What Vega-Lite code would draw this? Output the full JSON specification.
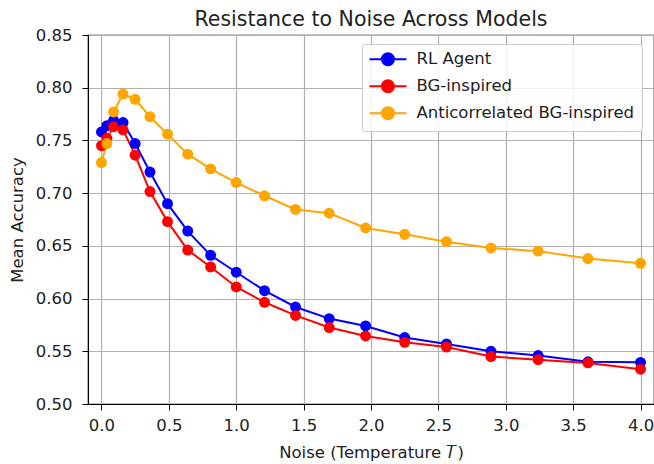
{
  "$schema": "https://vega.github.io/schema/vega-lite/v6.json",
  "width": 566,
  "height": 369,
  "autosize": {"type": "none"},
  "padding": {"left": 88, "top": 35, "right": 0, "bottom": 60},
  "background": "white",
  "title": {
    "text": "Resistance to Noise Across Models",
    "font": "DejaVu Sans",
    "fontSize": 20.5,
    "fontWeight": "normal",
    "color": "#222",
    "anchor": "middle",
    "offset": -3
  },
  "config": {
    "view": {"stroke": "black", "strokeWidth": 1.2},
    "font": "DejaVu Sans",
    "axis": {
      "labelFont": "DejaVu Sans",
      "titleFont": "DejaVu Sans",
      "labelFontSize": 16.5,
      "titleFontSize": 16.5,
      "titleFontWeight": "normal",
      "labelColor": "#222",
      "titleColor": "#222",
      "domainColor": "black",
      "tickColor": "black",
      "gridColor": "#b0b0b0",
      "gridWidth": 1.2,
      "tickSize": 6
    }
  },
  "data": {
    "values": [
      {"noise": 0.0, "acc": 0.758, "model": "RL Agent"},
      {"noise": 0.04, "acc": 0.764, "model": "RL Agent"},
      {"noise": 0.09, "acc": 0.769, "model": "RL Agent"},
      {"noise": 0.16, "acc": 0.767, "model": "RL Agent"},
      {"noise": 0.25, "acc": 0.747, "model": "RL Agent"},
      {"noise": 0.36, "acc": 0.720, "model": "RL Agent"},
      {"noise": 0.49, "acc": 0.690, "model": "RL Agent"},
      {"noise": 0.64, "acc": 0.664, "model": "RL Agent"},
      {"noise": 0.81, "acc": 0.641, "model": "RL Agent"},
      {"noise": 1.0, "acc": 0.625, "model": "RL Agent"},
      {"noise": 1.21, "acc": 0.6075, "model": "RL Agent"},
      {"noise": 1.44, "acc": 0.592, "model": "RL Agent"},
      {"noise": 1.69, "acc": 0.581, "model": "RL Agent"},
      {"noise": 1.96, "acc": 0.574, "model": "RL Agent"},
      {"noise": 2.25, "acc": 0.563, "model": "RL Agent"},
      {"noise": 2.56, "acc": 0.557, "model": "RL Agent"},
      {"noise": 2.89, "acc": 0.550, "model": "RL Agent"},
      {"noise": 3.24, "acc": 0.546, "model": "RL Agent"},
      {"noise": 3.61, "acc": 0.540, "model": "RL Agent"},
      {"noise": 4.0, "acc": 0.5395, "model": "RL Agent"},
      {"noise": 0.0, "acc": 0.745, "model": "BG-inspired"},
      {"noise": 0.04, "acc": 0.752, "model": "BG-inspired"},
      {"noise": 0.09, "acc": 0.763, "model": "BG-inspired"},
      {"noise": 0.16, "acc": 0.760, "model": "BG-inspired"},
      {"noise": 0.25, "acc": 0.736, "model": "BG-inspired"},
      {"noise": 0.36, "acc": 0.7015, "model": "BG-inspired"},
      {"noise": 0.49, "acc": 0.673, "model": "BG-inspired"},
      {"noise": 0.64, "acc": 0.646, "model": "BG-inspired"},
      {"noise": 0.81, "acc": 0.630, "model": "BG-inspired"},
      {"noise": 1.0, "acc": 0.611, "model": "BG-inspired"},
      {"noise": 1.21, "acc": 0.5965, "model": "BG-inspired"},
      {"noise": 1.44, "acc": 0.584, "model": "BG-inspired"},
      {"noise": 1.69, "acc": 0.5725, "model": "BG-inspired"},
      {"noise": 1.96, "acc": 0.5645, "model": "BG-inspired"},
      {"noise": 2.25, "acc": 0.5585, "model": "BG-inspired"},
      {"noise": 2.56, "acc": 0.554, "model": "BG-inspired"},
      {"noise": 2.89, "acc": 0.545, "model": "BG-inspired"},
      {"noise": 3.24, "acc": 0.542, "model": "BG-inspired"},
      {"noise": 3.61, "acc": 0.539, "model": "BG-inspired"},
      {"noise": 4.0, "acc": 0.533, "model": "BG-inspired"},
      {"noise": 0.0, "acc": 0.729, "model": "Anticorrelated BG-inspired"},
      {"noise": 0.04, "acc": 0.747, "model": "Anticorrelated BG-inspired"},
      {"noise": 0.09, "acc": 0.777, "model": "Anticorrelated BG-inspired"},
      {"noise": 0.16, "acc": 0.794, "model": "Anticorrelated BG-inspired"},
      {"noise": 0.25, "acc": 0.789, "model": "Anticorrelated BG-inspired"},
      {"noise": 0.36, "acc": 0.7725, "model": "Anticorrelated BG-inspired"},
      {"noise": 0.49, "acc": 0.756, "model": "Anticorrelated BG-inspired"},
      {"noise": 0.64, "acc": 0.737, "model": "Anticorrelated BG-inspired"},
      {"noise": 0.81, "acc": 0.723, "model": "Anticorrelated BG-inspired"},
      {"noise": 1.0, "acc": 0.710, "model": "Anticorrelated BG-inspired"},
      {"noise": 1.21, "acc": 0.6975, "model": "Anticorrelated BG-inspired"},
      {"noise": 1.44, "acc": 0.6845, "model": "Anticorrelated BG-inspired"},
      {"noise": 1.69, "acc": 0.681, "model": "Anticorrelated BG-inspired"},
      {"noise": 1.96, "acc": 0.667, "model": "Anticorrelated BG-inspired"},
      {"noise": 2.25, "acc": 0.661, "model": "Anticorrelated BG-inspired"},
      {"noise": 2.56, "acc": 0.654, "model": "Anticorrelated BG-inspired"},
      {"noise": 2.89, "acc": 0.648, "model": "Anticorrelated BG-inspired"},
      {"noise": 3.24, "acc": 0.645, "model": "Anticorrelated BG-inspired"},
      {"noise": 3.61, "acc": 0.638, "model": "Anticorrelated BG-inspired"},
      {"noise": 4.0, "acc": 0.6335, "model": "Anticorrelated BG-inspired"}
    ]
  },
  "mark": {"type": "line", "strokeWidth": 2, "point": {"filled": true, "size": 120, "opacity": 1}},
  "encoding": {
    "x": {
      "field": "noise",
      "type": "quantitative",
      "title": "Noise (Temperature 𝑇)",
      "scale": {"domain": [-0.1, 4.1], "nice": false, "zero": false},
      "axis": {"values": [0, 0.5, 1, 1.5, 2, 2.5, 3, 3.5, 4], "format": ".1f", "labelPadding": 7, "titlePadding": 11, "labelFlush": false}
    },
    "y": {
      "field": "acc",
      "type": "quantitative",
      "title": "Mean Accuracy",
      "scale": {"domain": [0.5, 0.85], "nice": false, "zero": false},
      "axis": {"values": [0.5, 0.55, 0.6, 0.65, 0.7, 0.75, 0.8, 0.85], "format": ".2f", "labelPadding": 10, "titlePadding": 10}
    },
    "color": {
      "field": "model",
      "type": "nominal",
      "sort": ["RL Agent", "BG-inspired", "Anticorrelated BG-inspired"],
      "scale": {"domain": ["RL Agent", "BG-inspired", "Anticorrelated BG-inspired"], "range": ["#0000ff", "#ff0000", "#ffa500"]},
      "legend": {
        "title": null,
        "orient": "none",
        "legendX": 274,
        "legendY": 9,
        "padding": 7,
        "fillColor": "rgba(255,255,255,0.85)",
        "strokeColor": "#cccccc",
        "cornerRadius": 3,
        "labelFont": "DejaVu Sans",
        "labelFontSize": 16.5,
        "labelColor": "#222",
        "labelLimit": 400,
        "labelOffset": 31,
        "symbolType": "M-1.3,0L4.87,0M0.78,0A1,1,0,1,1,2.78,0A1,1,0,1,1,0.78,0Z",
        "symbolSize": 144,
        "symbolStrokeWidth": 2,
        "rowPadding": 6,
        "encode": {
          "symbols": {"update": {"fill": {"scale": "color", "field": "value"}, "stroke": {"scale": "color", "field": "value"}, "opacity": {"value": 1}}}
        }
      }
    },
    "order": {"field": "noise", "type": "quantitative"}
  }
}
